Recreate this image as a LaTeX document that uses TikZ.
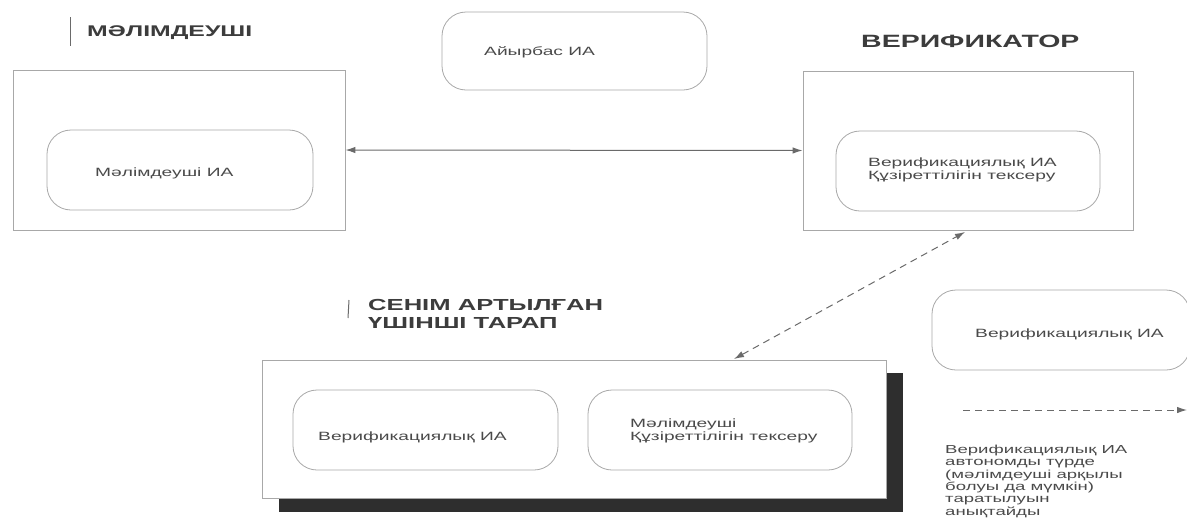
\documentclass[tikz,border=0pt]{standalone}
\usepackage{fontspec}
\setmainfont{Liberation Sans}[FakeStretch=1.6]
\usetikzlibrary{arrows.meta}
\definecolor{boxline}{HTML}{A8A8A8}
\definecolor{txt}{HTML}{4A4A4A}
\definecolor{ttl}{HTML}{3C3C3C}
\definecolor{arr}{HTML}{6A6A6A}
\definecolor{shadowc}{HTML}{2E2E2E}
\tikzset{
  outerbox/.style={draw=boxline, line width=0.9pt, fill=white, minimum width=#1, inner sep=0pt},
  innerbox/.style={draw=boxline, line width=0.8pt, rounded corners=24pt, inner sep=0pt},
  lbl/.style={text=txt, font=\fontsize{12}{13}\selectfont, align=left, inner sep=0pt, anchor=west},
  ttlstyle/.style={text=ttl, font=\fontsize{16.5}{19}\selectfont\bfseries, align=left, inner sep=0pt, anchor=west},
  tip/.style={-{Latex[length=10pt,width=6.5pt]}},
  conn/.style={draw=arr, line width=1pt, {Latex[length=10pt,width=6.5pt]}-{Latex[length=10pt,width=6.5pt]}},
  dashconn/.style={draw=arr, line width=1pt, dash pattern=on 7pt off 5pt},
  bar/.style={draw=arr, line width=1pt}
}
\begin{document}
\begin{tikzpicture}[x=1pt,y=-1pt]
\useasboundingbox (0,0) rectangle (1187,520);
% Issuer
\node[outerbox=332pt, minimum height=160pt] (issuer) at (179,150) {};
\node[innerbox, minimum width=266pt, minimum height=80pt] (issuerIA) at (180,170) {};
\node[lbl] (issuerIAt) at (95,173) {Мәлімдеуші ИА};
\node[ttlstyle, font=\fontsize{15.5}{18}\selectfont\bfseries] (issuerT) at (87,33) {МӘЛІМДЕУШІ};
\coordinate (b1a) at (70,17); \coordinate (b1b) at (70,46);
\draw[bar] (b1a) -- (b1b);
% Exchange
\node[innerbox, minimum width=265pt, minimum height=78pt] (exch) at (574.5,51) {};
\node[lbl] (excht) at (484,52) {Айырбас ИА};
% Verifier
\node[outerbox=330pt, minimum height=159pt] (ver) at (968,150.5) {};
\node[innerbox, minimum width=264pt, minimum height=80pt] (verIA) at (968,171) {};
\node[lbl] (verIAt) at (868,170) {Верификациялық ИА\\Құзіреттілігін тексеру};
\node[ttlstyle, font=\fontsize{17.8}{20}\selectfont\bfseries] (verT) at (861,41) {ВЕРИФИКАТОР};
% Trusted third party
\coordinate (shA) at (279,373); \coordinate (shB) at (903,512);
\fill[shadowc] (shA) rectangle (shB);
\node[outerbox=624pt, minimum height=138pt] (ttp) at (574,429) {};
\node[innerbox, minimum width=265pt, minimum height=80pt] (ttpA) at (425.5,430) {};
\node[innerbox, minimum width=264pt, minimum height=80pt] (ttpB) at (720,430) {};
\node[lbl] (ttpAt) at (318,437) {Верификациялық ИА};
\node[lbl] (ttpBt) at (630,431) {Мәлімдеуші\\Құзіреттілігін тексеру};
\node[ttlstyle, font=\fontsize{16}{18.5}\selectfont\bfseries] (ttpT) at (368,314) {СЕНІМ АРТЫЛҒАН\\ҮШІНШІ ТАРАП};
\coordinate (b2a) at (349,300); \coordinate (b2b) at (348,318);
\draw[bar] (b2a) -- (b2b);
% connectors
\draw[conn] (issuer.east) -- (ver.west);
\coordinate (d1) at (965,232);
\coordinate (d2) at (734,359);
\draw[dashconn, {Latex[length=10pt,width=6.5pt]}-{Latex[length=10pt,width=6.5pt]}] (d2) -- (d1);
% legend
\node[innerbox, minimum width=258pt, minimum height=80pt] (leg) at (1061,330) {};
\node[lbl] (legt) at (975,334) {Верификациялық ИА};
\coordinate (l1) at (963,410); \coordinate (l2) at (1187,410);
\draw[dashconn, tip] (l1) -- (l2);
\node[lbl, anchor=north west, font=\fontsize{11.6}{12.3}\selectfont] (legtxt) at (945,445) {Верификациялық ИА\\автономды түрде\\(мәлімдеуші арқылы\\болуы да мүмкін)\\таратылуын\\анықтайды};
\end{tikzpicture}
\end{document}
